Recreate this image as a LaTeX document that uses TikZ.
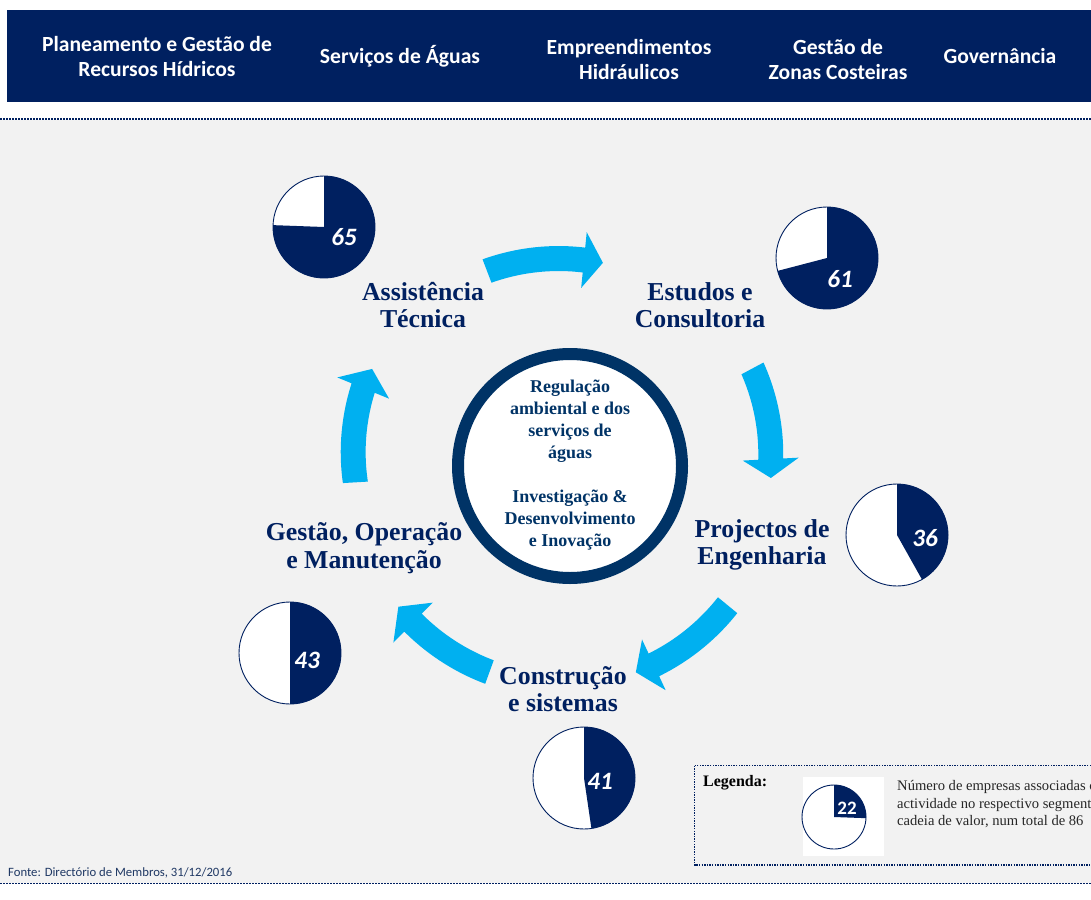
\documentclass[tikz,border=0pt]{standalone}
\usepackage{fontspec}
\setmainfont{Liberation Serif}
\newfontfamily\calibri{Carlito}
\definecolor{navy}{RGB}{0,32,96}
\definecolor{ringc}{RGB}{0,51,102}
\definecolor{arrowc}{RGB}{0,176,240}
\definecolor{bgc}{RGB}{242,242,242}
\definecolor{fontec}{RGB}{31,56,100}
\definecolor{legc}{RGB}{38,38,38}
\tikzset{
  hdr/.style={text=white,font=\calibri\bfseries\fontsize{21.6}{25}\selectfont,align=center,inner sep=0pt},
  seglabel/.style={text=navy,font=\bfseries\fontsize{25.8}{26.5}\selectfont,align=center,inner sep=0pt},
  centertext/.style={text=ringc,font=\bfseries\fontsize{18}{22}\selectfont,align=center,inner sep=0pt},
  pienum/.style={text=white,font=\calibri\bfseries\itshape\fontsize{25}{25}\selectfont,inner sep=0pt},
  dotline/.style={navy,line width=1.6pt,dash pattern=on 1.6pt off 1.4pt},
}
\newcommand\piechart[4]{% cx cy r value
  \fill[white] (#1,#2) circle[radius=#3pt];
  \fill[navy] (#1,#2) -- plot[domain=-90:{-90+4.186047*#4},samples=80] ({#1+#3*cos(\x)},{#2+#3*sin(\x)}) -- cycle;
  \draw[navy,line width=0.9pt] (#1,#2) circle[radius=#3pt];
}
% cycle arrow: tail angle, tail radius, head-base angle, head radius, tip angle
\newcommand\cyc[5]{%
  \fill[arrowc]
    plot[domain=#1:#3,samples=50] ({563+(#2+(#4-#2)*(\x-(#1))/((#3)-(#1))+12.5)*cos(\x)},{470+(#2+(#4-#2)*(\x-(#1))/((#3)-(#1))+12.5)*sin(\x)})
    -- ({563+(#4+28)*cos(#3)},{470+(#4+28)*sin(#3)})
    -- ({563+(#4)*cos(#5)},{470+(#4)*sin(#5)})
    -- ({563+(#4-28)*cos(#3)},{470+(#4-28)*sin(#3)})
    -- plot[domain=#3:#1,samples=50] ({563+(#2+(#4-#2)*(\x-(#1))/((#3)-(#1))-12.5)*cos(\x)},{470+(#2+(#4-#2)*(\x-(#1))/((#3)-(#1))-12.5)*sin(\x)})
    -- cycle;
}
\begin{document}
\begin{tikzpicture}[x=1pt,y=-1pt]
\useasboundingbox (0,0) rectangle (1091,899);
\clip (0,0) rectangle (1091,899);
\fill[white] (0,0) rectangle (1091,899);
\fill[bgc] (0,120) rectangle (1091,883);
% header
\fill[navy] (7,10) rectangle (1095,102);
\node[hdr] (h1) at (157,56.5) {Planeamento e Gestão de\\Recursos Hídricos};
\node[hdr] (h2) at (400,56) {Serviços de Águas};
\node[hdr] (h3) at (629,59.5) {Empreendimentos\\Hidráulicos};
\node[hdr] (h4) at (838,60) {Gestão de\\Zonas Costeiras};
\node[hdr] (h5) at (1000,56) {Governância};
\draw[dotline] (0,119) -- (1091,119);
\draw[dotline] (0,883.5) -- (1091,883.5);
% arrows
\cyc{-110.9}{213}{-84.3}{211}{-79.1}
\cyc{-28.2}{215}{-3.0}{208}{2.2}
\cyc{39.4}{213}{65}{215}{70.2}
\cyc{110}{215}{134.5}{214}{140.3}
\cyc{176.6}{208}{202.3}{216}{207.9}
% centre circle
\fill[white] (570,466) circle[radius=112pt];
\draw[ringc,line width=12pt] (570,466) circle[radius=112pt];
\node[centertext] (core) at (570,465) {Regulação\\ambiental e dos\\serviços de\\águas\\[22pt]Investigação \&\\Desenvolvimento\\e Inovação};
% segment labels
\node[seglabel] (at) at (423,305) {Assistência\\Técnica};
\node[seglabel] (ec) at (700,305) {Estudos e\\Consultoria};
\node[seglabel] (pe) at (762,545) {Projectos de\\Engenharia};
\node[seglabel] (cs) at (563,689) {Construção\\e sistemas};
\node[seglabel,font=\bfseries\fontsize{25.8}{28.5}\selectfont] (gom) at (364,548) {Gestão, Operação\\e Manutenção};
% pies
\piechart{324}{227}{51}{65}
\node[pienum] (p65) at (344,237) {65};
\piechart{827}{258}{51}{61}
\node[pienum] (p61) at (840,279) {61};
\piechart{897}{535}{51}{36}
\node[pienum] (p36) at (925,538) {36};
\piechart{290}{653}{51}{43}
\node[pienum] (p43) at (307,660) {43};
\piechart{584}{778}{51}{41}
\node[pienum] (p41) at (600,781) {41};
% legend
\draw[navy,line width=1.4pt,dash pattern=on 1.4pt off 1.2pt] (694.5,765.5) rectangle (1100,865);
\node[anchor=north west,inner sep=0pt,font=\bfseries\fontsize{16}{18}\selectfont] (leg) at (703,775.5) {Legenda:};
\fill[white] (803,777) rectangle (884,856);
\piechart{834}{817}{32}{22}
\node[text=white,font=\calibri\bfseries\fontsize{19}{19}\selectfont,inner sep=0pt] (p22) at (847,808) {22};
\node[anchor=north west,inner sep=0pt,align=left,text=legc,font=\fontsize{14.6}{17.5}\selectfont] (legtxt) at (897,780.5) {Número de empresas associadas com\\actividade no respectivo segmento da\\cadeia de valor, num total de 86};
% source
\node[anchor=west,inner sep=0pt,text=fontec,font=\calibri\fontsize{12.7}{14}\selectfont] (src) at (8,873) {Fonte: Directório de Membros, 31/12/2016};
\end{tikzpicture}
\end{document}
